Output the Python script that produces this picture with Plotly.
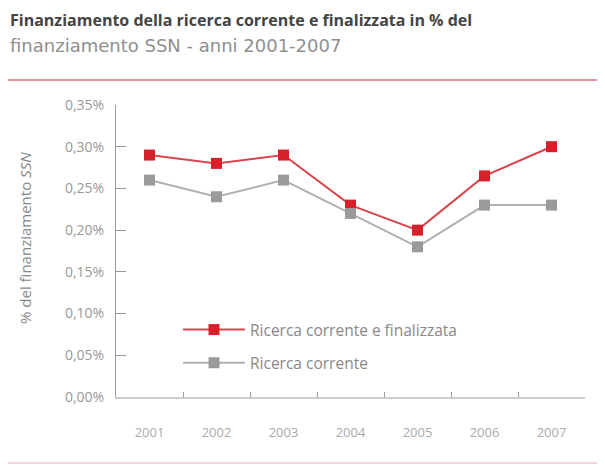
import plotly.graph_objects as go

anni = ["2001", "2002", "2003", "2004", "2005", "2006", "2007"]
ricerca_corrente_finalizzata = [0.29, 0.28, 0.29, 0.23, 0.20, 0.265, 0.30]
ricerca_corrente = [0.26, 0.24, 0.26, 0.22, 0.18, 0.23, 0.23]
y_tick_vals = [0.00, 0.05, 0.10, 0.15, 0.20, 0.25, 0.30, 0.35]
y_tick_text = ["0,00%", "0,05%", "0,10%", "0,15%", "0,20%", "0,25%", "0,30%", "0,35%"]

W, H = 605, 465
OFF = 8  # page body offset
ML, MT = 116 - OFF, 105 - OFF
MR = W - (585 - OFF)
MB = H - (397 - OFF)
PW, PH = W - ML - MR, H - MT - MB

def px(X):
    return (X - OFF - ML) / PW

def py(Y):
    return (H - MB - (Y - OFF)) / PH

fig = go.Figure()
fig.add_trace(go.Scatter(
    x=anni, y=ricerca_corrente_finalizzata, name="Ricerca corrente e finalizzata",
    mode="lines+markers", legendgroup="a",
    line=dict(color="#d9454c", width=2),
    marker=dict(symbol="square", size=11, color="#d7202a"),
))
fig.add_trace(go.Scatter(
    x=anni, y=ricerca_corrente, name="Ricerca corrente",
    mode="lines+markers", legendgroup="b",
    line=dict(color="#b0b0b0", width=2),
    marker=dict(symbol="square", size=11, color="#9a9a9a"),
))

fig.update_layout(
    width=W, height=H,
    margin=dict(l=ML, r=MR, t=MT, b=MB),
    paper_bgcolor="white", plot_bgcolor="white",
    font=dict(family="Open Sans", color="#888888", size=12),
    showlegend=True,
    legend=dict(x=px(178), y=py(313), xanchor="left", yanchor="top",
                bgcolor="rgba(0,0,0,0)", tracegroupgap=10, itemwidth=62,
                font=dict(size=15.5, color="#888888"), traceorder="grouped"),
    xaxis=dict(type="category", range=[-0.5, 6.5], showgrid=False,
               showline=True, linecolor="#cccccc", linewidth=2,
               ticks="inside", tickson="boundaries", ticklen=5, tickcolor="#999999",
               ticklabelstandoff=22, tickfont=dict(size=13, color="#aaaaaa")),
    yaxis=dict(range=[0, 0.35], tickvals=y_tick_vals, ticktext=y_tick_text,
               showgrid=False, zeroline=False,
               showline=True, linecolor="#999999", linewidth=1,
               ticks="inside", ticklen=10, tickcolor="#999999",
               ticklabelstandoff=8, tickfont=dict(size=14, color="#999999")),
    annotations=[
        dict(text="<b>Finanziamento della ricerca corrente e finalizzata in % del</b>",
             xref="paper", yref="paper", x=px(8), y=py(20), xanchor="left", yanchor="middle",
             showarrow=False, font=dict(size=16, color="#444444", family="Open Sans")),
        dict(text="finanziamento SSN - anni 2001-2007",
             xref="paper", yref="paper", x=px(8), y=py(46), xanchor="left", yanchor="middle",
             showarrow=False, font=dict(size=18, color="#8f8f8f", family="DejaVu Sans")),
        dict(text="% del finanziamento <i>SSN</i>", textangle=-90,
             xref="paper", yref="paper", x=px(25), y=py(238), xanchor="center", yanchor="middle",
             showarrow=False, font=dict(size=15, color="#888888")),
    ],
    shapes=[
        dict(type="line", xref="paper", yref="paper", x0=px(4), x1=px(601), y0=py(80), y1=py(80),
             line=dict(color="#d9707a", width=1.5)),
        dict(type="rect", xref="paper", yref="paper", x0=px(2), x1=px(603), y0=py(2), y1=py(463),
             line=dict(color="#e4e4e4", width=1)),
        dict(type="line", xref="paper", yref="paper", x0=px(2), x1=px(603), y0=py(463), y1=py(463),
             line=dict(color="#f3c9cf", width=1.5)),
    ],
)

fig.write_html("out.html")
